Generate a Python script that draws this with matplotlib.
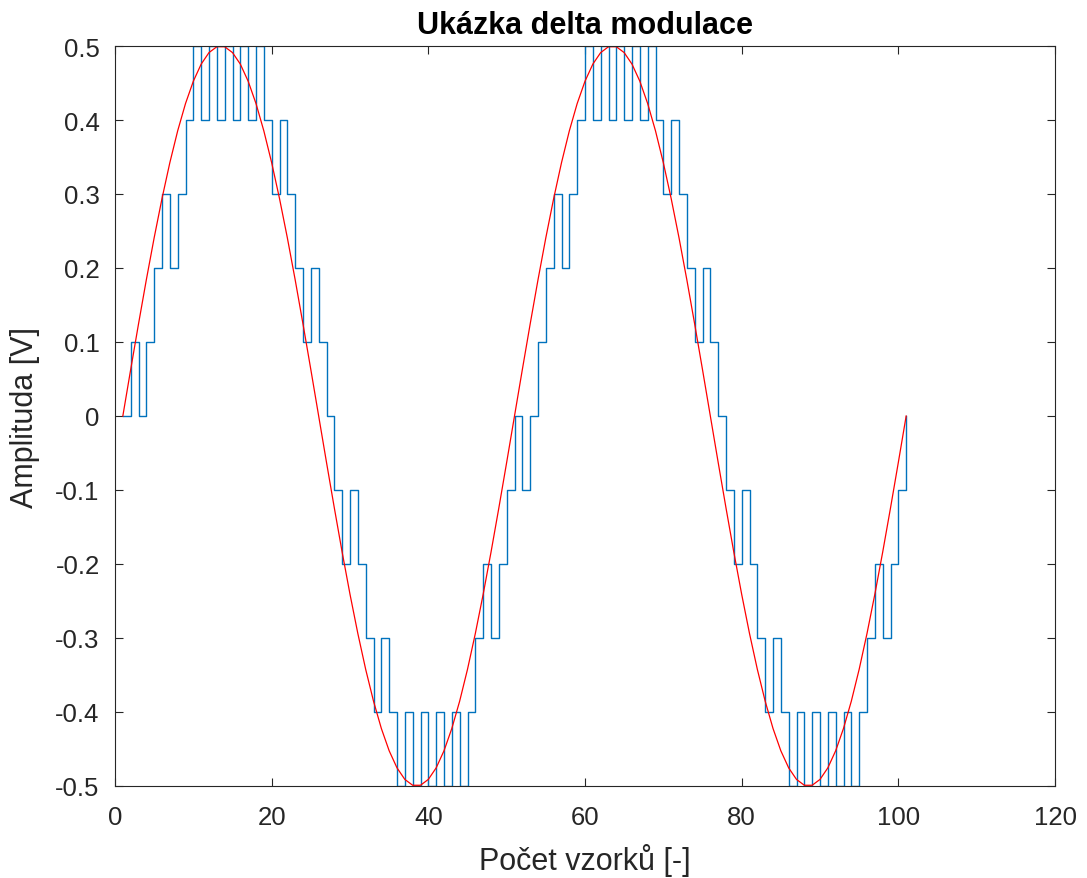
"""Delta modulation example: sine input and the stepped modulator output."""

import matplotlib
matplotlib.use("Agg")
import matplotlib.pyplot as plt

# Data

# sample index of every point (1..101)
samples = list(range(1, 102))

# stepped output of the delta modulator, step 0.1 V
delta_out = [
    0.0, 0.1, 0.0, 0.1, 0.2, 0.3, 0.2, 0.3, 0.4, 0.5,
    0.4, 0.5, 0.4, 0.5, 0.4, 0.5, 0.4, 0.5, 0.4, 0.3,
    0.4, 0.3, 0.2, 0.1, 0.2, 0.1, 0.0, -0.1, -0.2, -0.1,
    -0.2, -0.3, -0.4, -0.3, -0.4, -0.5, -0.4, -0.5, -0.4, -0.5,
    -0.4, -0.5, -0.4, -0.5, -0.4, -0.3, -0.2, -0.3, -0.2, -0.1,
    0.0, -0.1, 0.0, 0.1, 0.2, 0.3, 0.2, 0.3, 0.4, 0.5,
    0.4, 0.5, 0.4, 0.5, 0.4, 0.5, 0.4, 0.5, 0.4, 0.3,
    0.4, 0.3, 0.2, 0.1, 0.2, 0.1, 0.0, -0.1, -0.2, -0.1,
    -0.2, -0.3, -0.4, -0.3, -0.4, -0.5, -0.4, -0.5, -0.4, -0.5,
    -0.4, -0.5, -0.4, -0.5, -0.4, -0.3, -0.2, -0.3, -0.2, -0.1,
    0.0,
]

# input signal (sine, 0.5 V amplitude, period 50 samples)
signal = [
    0.0, 0.0627, 0.1243, 0.1841, 0.2409, 0.2939, 0.3423, 0.3853, 0.4222, 0.4524,
    0.4755, 0.4911, 0.4990, 0.4990, 0.4911, 0.4755, 0.4524, 0.4222, 0.3853, 0.3423,
    0.2939, 0.2409, 0.1841, 0.1243, 0.0627, 0.0, -0.0627, -0.1243, -0.1841, -0.2409,
    -0.2939, -0.3423, -0.3853, -0.4222, -0.4524, -0.4755, -0.4911, -0.4990, -0.4990, -0.4911,
    -0.4755, -0.4524, -0.4222, -0.3853, -0.3423, -0.2939, -0.2409, -0.1841, -0.1243, -0.0627,
    0.0, 0.0627, 0.1243, 0.1841, 0.2409, 0.2939, 0.3423, 0.3853, 0.4222, 0.4524,
    0.4755, 0.4911, 0.4990, 0.4990, 0.4911, 0.4755, 0.4524, 0.4222, 0.3853, 0.3423,
    0.2939, 0.2409, 0.1841, 0.1243, 0.0627, 0.0, -0.0627, -0.1243, -0.1841, -0.2409,
    -0.2939, -0.3423, -0.3853, -0.4222, -0.4524, -0.4755, -0.4911, -0.4990, -0.4990, -0.4911,
    -0.4755, -0.4524, -0.4222, -0.3853, -0.3423, -0.2939, -0.2409, -0.1841, -0.1243, -0.0627,
    0.0,
]

x_ticks = [0, 20, 40, 60, 80, 100, 120]
y_ticks = [-0.5, -0.4, -0.3, -0.2, -0.1, 0.0, 0.1, 0.2, 0.3, 0.4, 0.5]
y_tick_labels = ["-0.5", "-0.4", "-0.3", "-0.2", "-0.1", "0",
                 "0.1", "0.2", "0.3", "0.4", "0.5"]

# Graphical parameters (MATLAB look)

plt.rcParams["font.family"] = ["Liberation Sans", "DejaVu Sans"]
axis_color = "#262626"

fig = plt.figure(figsize=(10.87, 8.79), dpi=100)
ax = fig.add_axes([115 / 1087, 1 - 787 / 879, (1055 - 115) / 1087, (787 - 47) / 879])

ax.step(samples, delta_out, where="post", color="#0072BD", linewidth=1.0)
ax.plot(samples, signal, color="red", linewidth=0.9)

ax.set_xlim(0, 120)
ax.set_ylim(-0.5, 0.5)
ax.set_xticks(x_ticks)
ax.set_xticklabels([str(t) for t in x_ticks])
ax.set_yticks(y_ticks)
ax.set_yticklabels(y_tick_labels)

ax.tick_params(direction="in", length=6, width=0.8, top=True, right=True,
               labelsize=18.5, colors=axis_color)
ax.tick_params(axis="x", pad=14)
ax.tick_params(axis="y", pad=11)
for spine in ax.spines.values():
    spine.set_color(axis_color)
    spine.set_linewidth(0.8)

ax.set_title("Ukázka delta modulace", fontsize=22, fontweight="bold", pad=9)
ax.set_xlabel("Počet vzorků [-]", fontsize=22, color=axis_color)
ax.set_ylabel("Amplituda [V]", fontsize=22, color=axis_color)
ax.xaxis.set_label_coords(0.5, -0.077)
ax.yaxis.set_label_coords(-0.08, 0.5)

fig.savefig("out.png", dpi=100)
